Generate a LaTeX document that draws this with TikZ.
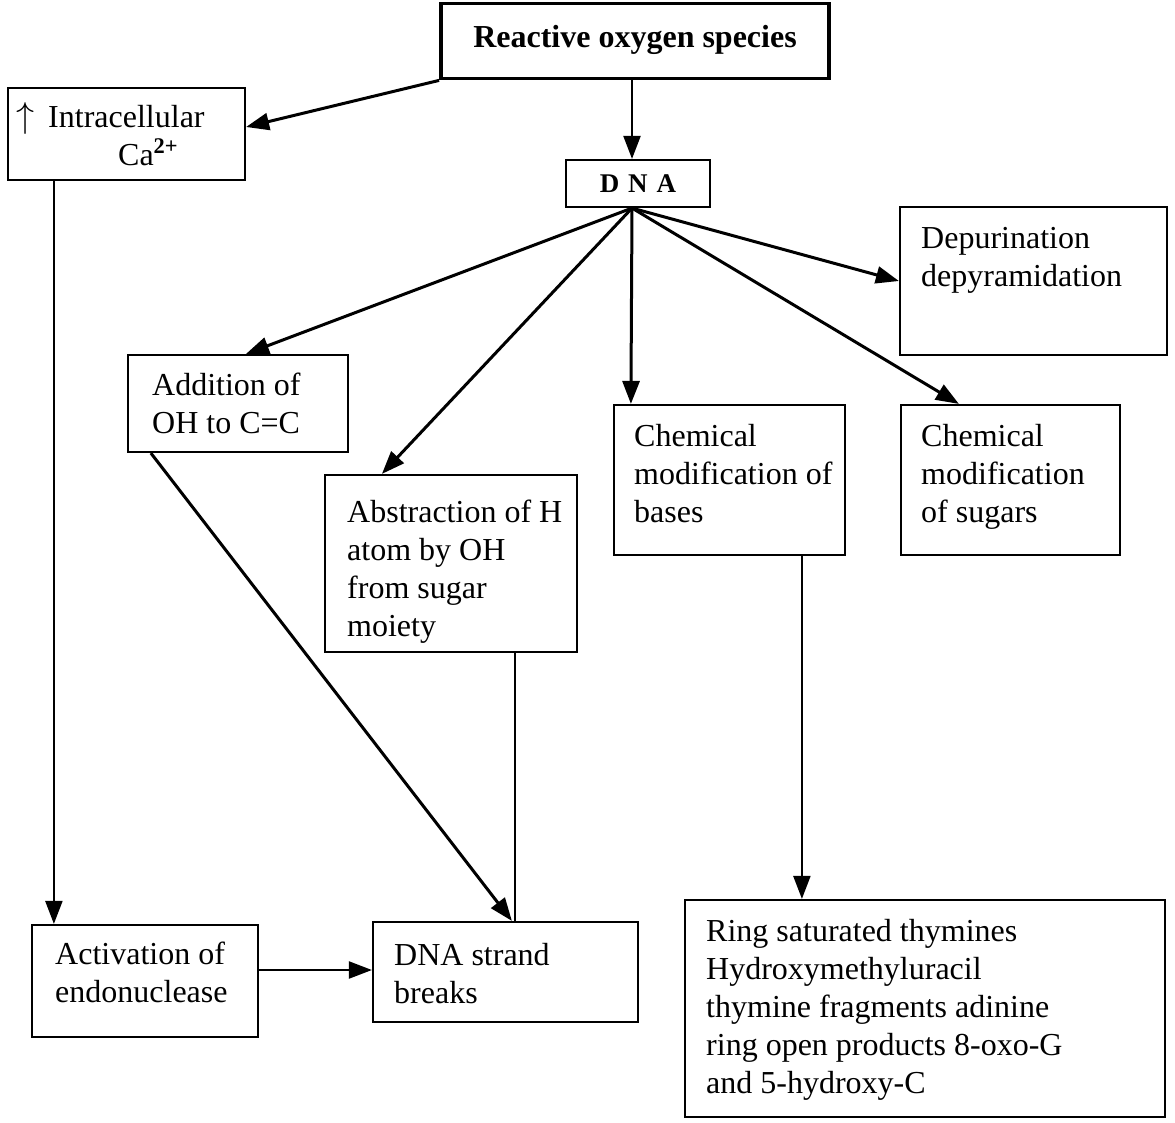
\documentclass[tikz,border=0pt]{standalone}
\usepackage{graphicx}
\usepackage{fontspec}
\setmainfont{Liberation Serif}
\usetikzlibrary{arrows.meta}
\begin{document}
\begin{tikzpicture}[x=1pt,y=-1pt,
  box/.style={draw, line width=2.2pt, inner sep=0pt, rectangle},
  txt/.style={font=\fontsize{32}{38}\selectfont, inner sep=0pt, anchor=north west, align=left},
  thickarr/.style={line width=3pt, -{Triangle[length=23pt,width=17pt]}},
  thinarr/.style={line width=2.2pt, -{Triangle[length=23pt,width=17pt]}},
  plainline/.style={line width=2.2pt}]
\useasboundingbox (0,0) rectangle (1175,1122);
% boxes
\node[box, line width=3.8pt, minimum width=388pt, minimum height=75pt] (ros) at (635,41) {};
\node[box, minimum width=237pt, minimum height=92pt] (ca) at (126.5,134) {};
\node[box, minimum width=144pt, minimum height=47pt] (dna) at (638,183.5) {};
\node[box, minimum width=267pt, minimum height=148pt] (dep) at (1033.5,281) {};
\node[box, minimum width=220pt, minimum height=97pt] (add) at (238,403.5) {};
\node[box, minimum width=252pt, minimum height=177pt] (abs) at (451,563.5) {};
\node[box, minimum width=231pt, minimum height=150pt] (bases) at (729.5,480) {};
\node[box, minimum width=219pt, minimum height=150pt] (sugars) at (1010.5,480) {};
\node[box, minimum width=226pt, minimum height=112pt] (act) at (145,981) {};
\node[box, minimum width=265pt, minimum height=100pt] (brk) at (505.5,972) {};
\node[box, minimum width=480pt, minimum height=217pt] (ring) at (925,1008.5) {};
% texts
\node[font=\fontsize{32}{38}\selectfont\bfseries, inner sep=0pt] (rost) at ([yshift=1pt]ros.center) {Reactive oxygen species};
\node[font=\fontsize{27}{30}\selectfont\bfseries, inner sep=0pt] (dnat) at (dna.center) {D\,\,N\,\,A};
\node[txt] (cat) at (16,102) {\scalebox{1.45}{$\uparrow$}\hspace{14pt}Intracellular\\\hspace*{102pt}Ca\raisebox{3pt}{\textsuperscript{\textbf{2+}}}};
\node[txt] (dept) at (921,227.5) {Depurination\\depyramidation};
\node[txt] (addt) at (152,372.5) {Addition of\\OH to C=C};
\node[txt] (abst) at (347,499.5) {Abstraction of H\\atom by OH\\from sugar\\moiety};
\node[txt] (basest) at (634,424.5) {Chemical\\modification of\\bases};
\node[txt] (sugarst) at (921,424.5) {Chemical\\modification\\of sugars};
\node[txt] (actt) at (55,941.5) {Activation of\\endonuclease};
\node[txt] (brkt) at (394,943.5) {DNA strand\\breaks};
\node[txt] (ringt) at (706,919.5) {Ring saturated thymines\\Hydroxymethyluracil\\thymine fragments adinine\\ring open products 8-oxo-G\\and 5-hydroxy-C};
% connectors
\draw[thickarr] (ros.south west) -- ([yshift=7pt]ca.east);
\draw[thinarr] ([xshift=-3pt]ros.south) -- ([xshift=-6pt]dna.north);
\coordinate (fan) at ([xshift=-6pt]dna.south);
\draw[thickarr] (fan) -- ([xshift=8pt]add.north);
\draw[thickarr] (fan) -- ([xshift=58pt]abs.north west);
\draw[thickarr] (fan) -- ([xshift=18pt]bases.north west);
\draw[thickarr] (fan) -- ([xshift=59pt]sugars.north west);
\draw[thickarr] (fan) -- (dep.west);
\draw[thinarr] ([xshift=47pt]ca.south west) -- ([xshift=23pt]act.north west);
\draw[thickarr] ([xshift=24pt]add.south west) -- ([xshift=140pt]brk.north west);
\draw[plainline] ([xshift=191pt]abs.south west) -- ([xshift=143pt]brk.north west);
\draw[thinarr] ([xshift=189pt]bases.south west) -- ([xshift=118pt]ring.north west);
\draw[thinarr] ([yshift=11pt]act.east) -- ([yshift=2pt]brk.west);
\end{tikzpicture}
\end{document}
